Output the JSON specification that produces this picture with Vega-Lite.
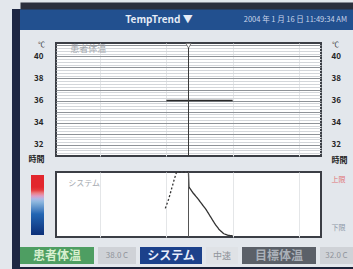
{
  "$schema": "https://vega.github.io/schema/vega-lite/v6.json",
  "background": "#e3e7ec",
  "padding": {"left": 12, "top": 5, "right": 0, "bottom": 0},
  "config": {"view": {"stroke": null}, "font": "Noto Sans CJK JP"},
  "datasets": {
    "curve": [
      {"t": 49.5, "v": 44, "phase": "rise"},
      {"t": 51, "v": 58, "phase": "rise"},
      {"t": 52.5, "v": 76, "phase": "rise"},
      {"t": 53.5, "v": 88, "phase": "rise"},
      {"t": 54.5, "v": 99, "phase": "rise"},
      {"t": 57, "v": 100, "phase": "rise"},
      {"t": 59.8, "v": 100, "phase": "rise"},
      {"t": 60, "v": 98, "phase": "fall"},
      {"t": 60.2, "v": 77, "phase": "fall"},
      {"t": 62, "v": 68, "phase": "fall"},
      {"t": 64, "v": 60, "phase": "fall"},
      {"t": 66, "v": 51, "phase": "fall"},
      {"t": 68, "v": 42, "phase": "fall"},
      {"t": 70, "v": 31, "phase": "fall"},
      {"t": 72, "v": 20, "phase": "fall"},
      {"t": 74, "v": 11, "phase": "fall"},
      {"t": 76, "v": 5, "phase": "fall"},
      {"t": 78, "v": 2.5, "phase": "fall"},
      {"t": 80, "v": 2, "phase": "fall"}
    ],
    "temp": [
      {"t": 50, "temp": 36},
      {"t": 80, "temp": 36}
    ],
    "cursor": [{"t": 60}]
  },
  "spacing": 0,
  "resolve": {"legend": {"color": "independent"}, "scale": {"color": "independent"}},
  "hconcat": [
    {
      "width": 8, "height": 264,
      "view": {"fill": "#1e2742"},
      "data": {"values": [{"label": ""}]},
      "mark": "text",
      "encoding": {"text": {"field": "label"}}
    },
    {
      "spacing": 7,
      "resolve": {"legend": {"color": "independent"}, "scale": {"color": "independent"}},
      "vconcat": [
        {
          "width": 333, "height": 21,
          "view": {"fill": "#22508f"},
          "layer": [
            {
              "data": {"values": [{"label": "TempTrend ▼"}]},
              "mark": {"type": "text", "fontSize": 10, "fontWeight": "bold", "color": "#e6ecf6"},
              "encoding": {
                "x": {"field": "label", "type": "nominal",
                  "scale": {"type": "point", "domain": ["TempTrend ▼", "2004 年 1 月 16 日 11:49:34 AM"], "padding": 0.358, "align": 1},
                  "axis": {"orient": "top", "offset": 3.5, "domain": true, "domainWidth": 7, "domainColor": "#2b2f3d", "labels": false, "ticks": false, "grid": false, "title": null}},
                "text": {"field": "label"}
              }
            },
            {
              "data": {"values": [{"label": "2004 年 1 月 16 日 11:49:34 AM"}]},
              "mark": {"type": "text", "fontSize": 7.5, "align": "right", "dx": -6, "color": "#c9d5ea"},
              "encoding": {
                "x": {"field": "label", "type": "nominal"},
                "text": {"field": "label"}
              }
            }
          ]
        },
        {
          "spacing": 6,
          "resolve": {"legend": {"color": "independent"}, "scale": {"color": "independent"}},
          "hconcat": [
            {
              "width": 1, "height": 1,
              "view": {"fill": "#e3e7ec"},
              "data": {"values": [{"label": ""}]},
              "mark": "text",
              "encoding": {"text": {"field": "label"}}
            },
            {
              "spacing": -4,
              "resolve": {"legend": {"color": "independent"}, "scale": {"color": "independent"}},
              "vconcat": [
                {
                  "width": 265, "height": 113,
                  "view": {"fill": "#ffffff", "stroke": "#3b3e45", "strokeWidth": 2},
                  "resolve": {"scale": {"y": "independent"}},
                  "layer": [
                    {
                      "data": {"name": "temp"},
                      "mark": {"type": "line", "color": "#2a2a2a", "strokeWidth": 1.5},
                      "encoding": {
                        "x": {"field": "t", "type": "quantitative",
                          "scale": {"domain": [0, 120], "nice": false, "zero": false},
                          "axis": {"values": [20, 50, 80, 110], "grid": true, "gridColor": "#e4e6e8", "labels": false, "ticks": false, "domain": false, "title": null}},
                        "y": {"field": "temp", "type": "quantitative",
                          "scale": {"domain": [31, 41.2], "nice": false, "zero": false},
                          "axis": {"orient": "left",
                            "values": [31.25,31.5,31.75,32,32.25,32.5,32.75,33,33.25,33.5,33.75,34,34.25,34.5,34.75,35,35.25,35.5,35.75,36,36.25,36.5,36.75,37,37.25,37.5,37.75,38,38.25,38.5,38.75,39,39.25,39.5,39.75,40,40.25,40.5,40.75,41],
                            "grid": true,
                            "gridColor": {"condition": {"test": "datum.value % 1 === 0", "value": "#8e9297"}, "value": "#d3d6da"},
                            "gridWidth": 1,
                            "ticks": false, "domain": false,
                            "labelExpr": "datum.value % 2 === 0 ? format(datum.value, 'd') : ''",
                            "labelPadding": 13, "labelFontSize": 8, "labelFontWeight": "bold", "labelColor": "#262626",
                            "title": "℃", "titleAngle": 0, "titleX": -15, "titleY": 1, "titleAlign": "center", "titleBaseline": "middle",
                            "titleFontSize": 7, "titleFontWeight": "normal", "titleColor": "#333333"}}
                      }
                    },
                    {
                      "data": {"name": "temp"},
                      "mark": {"type": "point", "size": 0, "opacity": 0},
                      "encoding": {
                        "x": {"field": "t", "type": "quantitative"},
                        "y": {"field": "temp", "type": "quantitative",
                          "scale": {"domain": [31, 41.2], "nice": false, "zero": false},
                          "axis": {"orient": "right", "values": [32, 34, 36, 38, 40], "grid": false, "ticks": false, "domain": false,
                            "labelPadding": 10, "labelFontSize": 8, "labelFontWeight": "bold", "labelColor": "#262626",
                            "title": "℃", "titleAngle": 0, "titleX": 14, "titleY": 1, "titleAlign": "center", "titleBaseline": "middle",
                            "titleFontSize": 7, "titleFontWeight": "normal", "titleColor": "#333333"}}
                      }
                    },
                    {
                      "data": {"values": [{"label": "患者体温"}]},
                      "mark": {"type": "text", "align": "left", "fontSize": 9, "color": "#a3a7ad"},
                      "encoding": {
                        "x": {"datum": 6.5, "type": "quantitative"},
                        "y": {"datum": 40.62, "type": "quantitative", "scale": {"domain": [31, 41.2], "nice": false, "zero": false}, "axis": null},
                        "text": {"field": "label"}
                      }
                    },
                    {
                      "data": {"name": "cursor"},
                      "mark": {"type": "rule", "color": "#3a3a3a", "strokeWidth": 1},
                      "encoding": {"x": {"field": "t", "type": "quantitative"}}
                    },
                    {
                      "data": {"name": "cursor"},
                      "mark": {"type": "point", "shape": "triangle-down", "size": 28, "filled": true, "fill": "#ffffff", "stroke": "#666666", "strokeWidth": 0.8, "opacity": 1},
                      "encoding": {
                        "x": {"field": "t", "type": "quantitative"},
                        "y": {"datum": 40.95, "type": "quantitative", "scale": {"domain": [31, 41.2], "nice": false, "zero": false}, "axis": null}
                      }
                    }
                  ]
                },
                {
                  "width": 265, "height": 65,
                  "view": {"fill": "#ffffff", "stroke": "#3b3e45", "strokeWidth": 2},
                  "resolve": {"scale": {"y": "independent"}},
                  "layer": [
                    {
                      "data": {"name": "curve"},
                      "mark": {"type": "line", "color": "#333333", "strokeWidth": 1.3},
                      "encoding": {
                        "x": {"field": "t", "type": "quantitative",
                          "scale": {"domain": [0, 120], "nice": false, "zero": false},
                          "axis": {"values": [20, 50, 80, 110], "grid": true, "gridColor": "#e4e6e8", "labels": false, "ticks": false, "domain": false, "title": null}},
                        "y": {"field": "v", "type": "quantitative",
                          "scale": {"domain": [0, 100], "nice": false, "zero": false},
                          "axis": {"orient": "left", "labels": false, "ticks": false, "domain": false, "grid": false,
                            "title": "時間", "titleAngle": 0, "titleX": -20, "titleY": -13, "titleAlign": "center", "titleBaseline": "middle",
                            "titleFontSize": 8, "titleFontWeight": "bold", "titleColor": "#222222"}},
                        "strokeDash": {"field": "phase", "type": "nominal",
                          "scale": {"domain": ["rise", "fall"], "range": [[2, 2], [1, 0]]}, "legend": null}
                      }
                    },
                    {
                      "data": {"name": "curve"},
                      "mark": {"type": "point", "size": 0, "filled": true, "strokeWidth": 0, "opacity": 1},
                      "encoding": {
                        "x": {"field": "t", "type": "quantitative"},
                        "y": {"field": "v", "type": "quantitative",
                          "scale": {"domain": [0, 100], "nice": false, "zero": false},
                          "axis": {"orient": "right", "values": [14, 88], "grid": false, "ticks": false, "domain": false,
                            "labelExpr": "datum.value > 50 ? '上限' : '下限'",
                            "labelColor": {"condition": {"test": "datum.value > 50", "value": "#e0757a"}, "value": "#8d98a8"},
                            "labelFontSize": 7, "labelPadding": 10,
                            "title": "時間", "titleAngle": 0, "titleX": 18, "titleY": -12, "titleAlign": "center", "titleBaseline": "middle",
                            "titleFontSize": 8, "titleFontWeight": "bold", "titleColor": "#222222"}},
                        "color": {"field": "v", "type": "quantitative",
                          "scale": {"domain": [0, 35, 58, 68, 76, 100], "range": ["#0b2f78", "#2366b3", "#9cc2e3", "#e9939a", "#e2262d", "#e2262d"]},
                          "legend": {"orient": "none", "legendX": -25, "legendY": 3, "direction": "vertical", "gradientLength": 60, "gradientThickness": 13,
                            "title": null, "labelExpr": "''", "labelOpacity": 0, "gradientStrokeWidth": 0, "padding": 0}}
                      }
                    },
                    {
                      "data": {"name": "cursor"},
                      "mark": {"type": "rule", "color": "#555555", "strokeWidth": 1},
                      "encoding": {"x": {"field": "t", "type": "quantitative"}}
                    },
                    {
                      "data": {"values": [{"label": "システム"}]},
                      "mark": {"type": "text", "align": "left", "fontSize": 8, "color": "#a7abb1"},
                      "encoding": {
                        "x": {"datum": 5.5, "type": "quantitative"},
                        "y": {"datum": 81.5, "type": "quantitative", "scale": {"domain": [0, 100], "nice": false, "zero": false}, "axis": null},
                        "text": {"field": "label"}
                      }
                    }
                  ]
                }
              ]
            }
          ]
        },
        {
          "spacing": 0,
          "vconcat": [
            {
              "spacing": 4,
              "hconcat": [
                {"width": 74, "height": 17, "view": {"fill": "#4e9e62"}, "data": {"values": [{"label": "患者体温"}]},
                 "mark": {"type": "text", "fontSize": 12, "fontWeight": "bold", "color": "#d7efcf"}, "encoding": {"text": {"field": "label"}}},
                {"width": 38, "height": 17, "view": {"fill": "#cfd2d7"}, "data": {"values": [{"label": "38.0 C"}]},
                 "mark": {"type": "text", "fontSize": 8, "color": "#8f949b"}, "encoding": {"text": {"field": "label"}}},
                {"width": 62, "height": 17, "view": {"fill": "#1c418b"}, "data": {"values": [{"label": "システム"}]},
                 "mark": {"type": "text", "fontSize": 12, "fontWeight": "bold", "color": "#e8eefb"}, "encoding": {"text": {"field": "label"}}},
                {"width": 32, "height": 17, "view": {"fill": "#dfe2e6"}, "data": {"values": [{"label": "中速"}]},
                 "mark": {"type": "text", "fontSize": 9, "color": "#8f949b"}, "encoding": {"text": {"field": "label"}}},
                {"width": 74, "height": 17, "view": {"fill": "#5b6068"}, "data": {"values": [{"label": "目標体温"}]},
                 "mark": {"type": "text", "fontSize": 12, "fontWeight": "bold", "color": "#aab0b8"}, "encoding": {"text": {"field": "label"}}},
                {"width": 33, "height": 17, "view": {"fill": "#cfd2d7"}, "data": {"values": [{"label": "32.0 C"}]},
                 "mark": {"type": "text", "fontSize": 8, "color": "#8f949b"}, "encoding": {"text": {"field": "label"}}}
              ]
            },
            {
              "width": 333, "height": 7,
              "view": {"fill": "#1b2137"},
              "data": {"values": [{"label": ""}]},
              "mark": "text",
              "encoding": {"text": {"field": "label"}}
            }
          ]
        }
      ]
    }
  ]
}
